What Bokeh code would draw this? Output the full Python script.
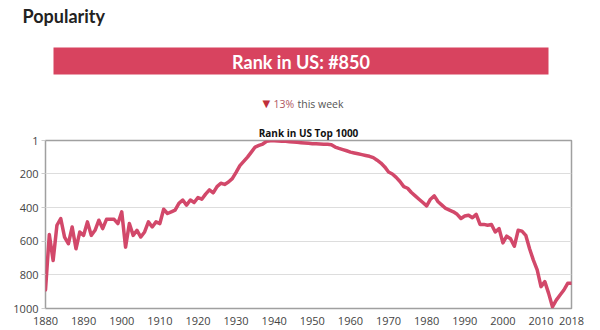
from bokeh.plotting import figure
from bokeh.layouts import column
from bokeh.models import Range1d, FixedTicker
from bokeh.core.properties import value
from bokeh.embed import file_html
from bokeh.resources import INLINE

years = list(range(1880, 2019))
ranks = [
    890, 560, 715, 505, 465, 575, 615, 515, 645, 545,
    565, 485, 565, 535, 475, 525, 470, 470, 470, 495,
    425, 635, 495, 565, 535, 575, 545, 485, 515, 485,
    495, 410, 435, 425, 415, 375, 355, 385, 355, 370,
    340, 350, 320, 295, 312, 275, 255, 262, 248, 228,
    190, 150, 125, 100, 70, 40, 30, 22, 6, 3,
    3, 4, 5, 6, 8, 10, 12, 14, 16, 18,
    20, 21, 22, 23, 24, 26, 40, 48, 55, 62,
    70, 75, 80, 85, 90, 95, 103, 118, 135, 158,
    188, 200, 220, 245, 275, 285, 310, 330, 350, 370,
    390, 350, 330, 365, 385, 405, 415, 425, 440, 465,
    450, 445, 460, 440, 500, 500, 505, 500, 545, 525,
    610, 570, 585, 630, 535, 540, 565, 645, 712, 770,
    870, 840, 910, 990, 950, 920, 890, 850, 850,
]
x_ticks = [1880, 1890, 1900, 1910, 1920, 1930, 1940, 1950, 1960, 1970, 1980, 1990, 2000, 2010, 2018]
y_ticks = [1, 200, 400, 600, 800, 1000]
current_rank = ranks[-1]
weekly_change = "13%"

RED = "#d8435f"
LINE = "#d2486a"
FONT = "Open Sans"

# ---- header figure (pixel coordinates) ----
H_TOP = 115
top = figure(width=600, height=H_TOP, x_range=Range1d(0, 600), y_range=Range1d(H_TOP, 0),
             output_backend="svg", toolbar_location=None, min_border=0,
             x_axis_location=None, y_axis_location=None)
top.frame_align = False
top.grid.visible = False
top.outline_line_color = None

top.text(x=[22], y=[15], text=["Popularity"], text_font=value("Lato"), text_font_style="bold",
         text_font_size="18px", text_color="#222222", text_baseline="middle", text_align="left")
top.quad(left=[53], right=[548], top=[47], bottom=[74], fill_color=RED, line_color=None)
top.text(x=[300.5], y=[61.5], text=[f"Rank in US: #{current_rank}"], text_font=value("Lato"),
         text_font_style="bold", text_font_size="18px", text_color="white",
         text_baseline="middle", text_align="center")
top.text(x=[262], y=[103], text=["\u25bc"], text_font=value("DejaVu Sans"), text_font_size="10px",
         text_color="#c0303a", text_baseline="middle", text_align="left")
top.text(x=[273], y=[103], text=[weekly_change], text_font=value(FONT), text_font_size="10.5px",
         text_color="#b0575f", text_baseline="middle", text_align="left")
top.text(x=[297], y=[103], text=["this week"], text_font=value(FONT), text_font_size="10.5px",
         text_color="#555555", text_baseline="middle", text_align="left")

# ---- chart ----
p = figure(width=600, height=330 - H_TOP, x_range=Range1d(1880, 2018), y_range=Range1d(1000, 1),
           output_backend="svg", toolbar_location=None,
           min_border_left=45, min_border_right=29, min_border_top=140 - H_TOP, min_border_bottom=22)
p.frame_align = False
p.title.text = "Rank in US Top 1000"
p.title.align = "center"
p.title.text_font = FONT
p.title.text_font_size = "10px"
p.title.text_font_style = "bold"
p.title.text_color = "#111111"
p.title.standoff = 1
p.title.offset = 8
p.line(years, ranks, line_color=LINE, line_width=3.5, line_join="round", line_cap="round")

p.xaxis.ticker = FixedTicker(ticks=x_ticks)
p.yaxis.ticker = FixedTicker(ticks=y_ticks)
for ax in (p.xaxis, p.yaxis):
    ax.axis_line_color = None
    ax.minor_tick_line_color = None
    ax.major_label_text_font = FONT
    ax.major_label_text_font_size = "11px"
    ax.major_label_text_color = "#444444"
p.xaxis.major_tick_line_color = None
p.xaxis.major_label_standoff = 2
p.yaxis.major_tick_line_color = "#cccccc"
p.yaxis.major_tick_out = 4
p.yaxis.major_tick_in = 0
p.yaxis.major_label_standoff = 3
p.xgrid.visible = False
p.ygrid.grid_line_color = "#dddddd"
p.outline_line_color = "#a0a0a0"
p.outline_line_width = 1.5

layout = column(top, p, spacing=0)
open("out.html", "w").write(file_html(layout, INLINE))
